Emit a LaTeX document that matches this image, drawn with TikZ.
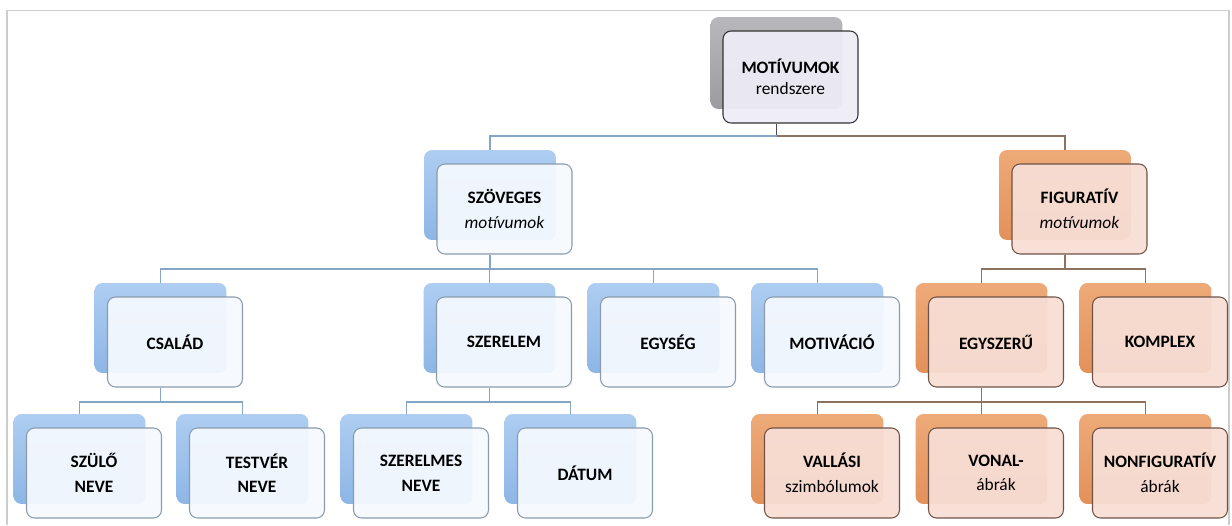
\documentclass[tikz,border=0pt]{standalone}
\usepackage{fontspec}
\setmainfont{Carlito}
\usepackage{tikz}
\usetikzlibrary{calc}
\definecolor{cBlueBack}{HTML}{8DB6E6}
\definecolor{cBlueTop}{HTML}{AECDF1}
\definecolor{cBlueFront}{HTML}{F5F9FE}
\definecolor{cBlueEdge}{HTML}{8A9BAD}
\definecolor{cBlueLine}{HTML}{86A6C6}
\definecolor{cOrangeBack}{HTML}{E3915A}
\definecolor{cOrangeTop}{HTML}{EDAA78}
\definecolor{cOrangeFront}{HTML}{F8DED5}
\definecolor{cOrangeEdge}{HTML}{6E5246}
\definecolor{cOrangeLine}{HTML}{8E7260}
\definecolor{cGreyBack}{HTML}{9C9CA0}
\definecolor{cGreyTop}{HTML}{B8B8BC}
\definecolor{cGreyFront}{HTML}{EEEDF6}
\definecolor{cFrame}{HTML}{CDCDCD}

\begin{document}
\begin{tikzpicture}[x=0.02cm, y=-0.02cm,
    shbox/.style={rounded corners=0.16cm, minimum width=2.64cm, minimum height=1.8cm, inner sep=0pt},
    frbox/.style={rounded corners=0.16cm, minimum width=2.7cm, minimum height=1.8cm, inner sep=0pt,
        align=center, font=\fontsize{9.9}{14}\selectfont, draw, line width=0.6pt,
        fill opacity=0.94, text opacity=1},
    bluesh/.style={shbox, top color=cBlueTop, bottom color=cBlueBack},
    bluebox/.style={frbox, fill=cBlueFront, draw=cBlueEdge},
    orangesh/.style={shbox, top color=cOrangeTop, bottom color=cOrangeBack},
    orangebox/.style={frbox, fill=cOrangeFront, draw=cOrangeEdge},
    blueconn/.style={cBlueLine, line width=0.7pt},
    orangeconn/.style={cOrangeLine, line width=0.7pt}]
\useasboundingbox (0,0) rectangle (1232,525);
% frame
\draw[cFrame, line width=1pt] (7,525) -- (7,10.5) -- (1229,10.5) -- (1229,525);

% TOP: root
\node[shbox, minimum height=1.84cm, top color=cGreyTop, bottom color=cGreyBack] (root-b) at (776.5,63) {};
\node[frbox, minimum height=1.84cm, fill=cGreyFront, draw=black!80, font=\fontsize{9.9}{12}\selectfont] (root) at (790.5,77)
    {\textbf{MOTÍVUMOK}\\rendszere};

% LEVEL 1
\node[bluesh] (szov-b) at (490,195) {};
\node[bluebox] (szov) at (504.5,209) {\textbf{SZÖVEGES}\\\textit{motívumok}};
\node[orangesh] (fig-b) at (1065,195) {};
\node[orangebox] (fig) at (1079.5,209) {\textbf{FIGURATÍV}\\\textit{motívumok}};

% LEVEL 2
\node[bluesh] (csalad-b) at (160.5,328) {};
\node[bluebox] (csalad) at (175,342) {\textbf{CSALÁD}};
\node[bluesh] (szerelem-b) at (489.5,328) {};
\node[bluebox] (szerelem) at (504,342) {\textbf{SZERELEM}};
\node[bluesh] (egyseg-b) at (653.5,328) {};
\node[bluebox] (egyseg) at (668,342) {\textbf{EGYSÉG}};
\node[bluesh] (motiv-b) at (817.5,328) {};
\node[bluebox] (motiv) at (832,342) {\textbf{MOTIVÁCIÓ}};
\node[orangesh] (egysz-b) at (981.5,328) {};
\node[orangebox] (egysz) at (996,342) {\textbf{EGYSZERŰ}};
\node[orangesh] (komplex-b) at (1145.5,328) {};
\node[orangebox] (komplex) at (1160,342) {\textbf{KOMPLEX}};

% LEVEL 3
\node[bluesh] (szulo-b) at (79.5,459) {};
\node[bluebox] (szulo) at (94,473) {\textbf{SZÜLŐ}\\\textbf{NEVE}};
\node[bluesh] (testver-b) at (242.5,459) {};
\node[bluebox] (testver) at (257,473) {\textbf{TESTVÉR}\\\textbf{NEVE}};
\node[bluesh] (szerelmes-b) at (406.5,459) {};
\node[bluebox] (szerelmes) at (421,473) {\textbf{SZERELMES}\\\textbf{NEVE}};
\node[bluesh] (datum-b) at (570.5,459) {};
\node[bluebox] (datum) at (585,473) {\textbf{DÁTUM}};
\node[orangesh] (vallasi-b) at (817.5,459) {};
\node[orangebox] (vallasi) at (832,473) {\textbf{VALLÁSI}\\szimbólumok};
\node[orangesh] (vonal-b) at (981.5,459) {};
\node[orangebox] (vonal) at (996,473) {\textbf{VONAL-}\\ábrák};
\node[orangesh] (nonfig-b) at (1145.5,459) {};
\node[orangebox] (nonfig) at (1160,473) {\textbf{NONFIGURATÍV}\\ábrák};

% connectors
\coordinate (bus1) at (0,136);
\coordinate (bus2) at (0,269);
\coordinate (bus3) at (0,402);
\draw[black!70, line width=0.7pt] (root-b |- root.south) -- (root-b |- bus1);
\draw[blueconn] (root-b |- bus1) -| (szov-b.north);
\draw[orangeconn] (root-b |- bus1) -| (fig-b.north);

\draw[blueconn] (szov-b |- szov.south) -- (szov-b |- bus2);
\draw[blueconn] (szov-b |- bus2) -| (csalad-b.north);
\draw[blueconn] (szov-b |- bus2) -| (szerelem-b.north);
\draw[blueconn] (szov-b |- bus2) -| (egyseg-b.north);
\draw[blueconn] (szov-b |- bus2) -| (motiv-b.north);
\draw[orangeconn] (fig-b |- fig.south) -- (fig-b |- bus2);
\draw[orangeconn] (fig-b |- bus2) -| (egysz-b.north);
\draw[orangeconn] (fig-b |- bus2) -| (komplex-b.north);

\draw[blueconn] (csalad-b |- csalad.south) -- (csalad-b |- bus3);
\draw[blueconn] (csalad-b |- bus3) -| (szulo-b.north);
\draw[blueconn] (csalad-b |- bus3) -| (testver-b.north);
\draw[blueconn] (szerelem-b |- szerelem.south) -- (szerelem-b |- bus3);
\draw[blueconn] (szerelem-b |- bus3) -| (szerelmes-b.north);
\draw[blueconn] (szerelem-b |- bus3) -| (datum-b.north);
\draw[orangeconn] (egysz-b |- egysz.south) -- (egysz-b |- bus3);
\draw[orangeconn] (egysz-b |- bus3) -| (vallasi-b.north);
\draw[orangeconn] (egysz-b |- bus3) -| (vonal-b.north);
\draw[orangeconn] (egysz-b |- bus3) -| (nonfig-b.north);
\end{tikzpicture}
\end{document}
